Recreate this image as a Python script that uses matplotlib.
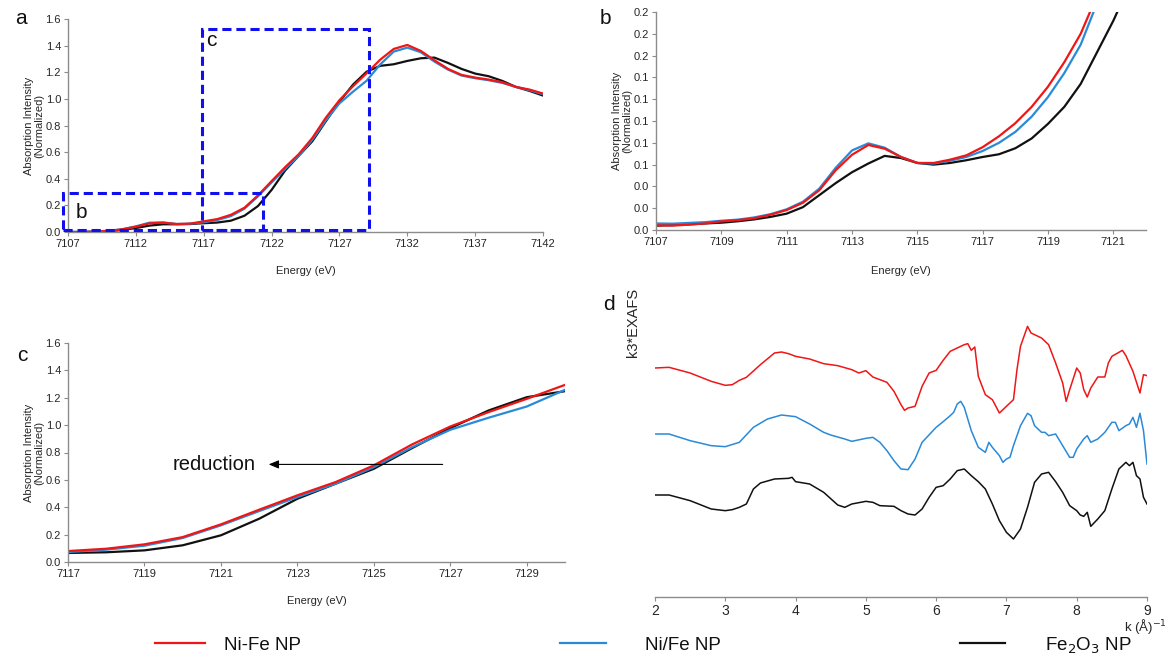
import numpy as np
import matplotlib
matplotlib.use("Agg")
import matplotlib.pyplot as plt
from matplotlib.lines import Line2D
from matplotlib.patches import Rectangle
from matplotlib.ticker import FormatStrFormatter, MultipleLocator

plt.rcParams['font.family'] = ['Liberation Sans', 'DejaVu Sans']

# ---------------- XANES, full range (panel a) ----------------
energy_a = [7107, 7108, 7109, 7110, 7111, 7112, 7113, 7114, 7115, 7116,
            7117, 7118, 7119, 7120, 7121, 7122, 7123, 7124, 7125, 7126,
            7127, 7128, 7129, 7130, 7131, 7132, 7133, 7134, 7135, 7136,
            7137, 7138, 7139, 7140, 7141, 7142]
nife_a = [0.000, 0.000, 0.003, 0.008, 0.020, 0.040, 0.065, 0.070, 0.060, 0.063,
          0.080, 0.097, 0.129, 0.182, 0.275, 0.382, 0.487, 0.584, 0.706, 0.859,
          0.990, 1.095, 1.192, 1.294, 1.375, 1.405, 1.360, 1.290, 1.225, 1.180,
          1.160, 1.145, 1.125, 1.090, 1.070, 1.040]
ni_fe_a = [0.000, 0.001, 0.004, 0.009, 0.021, 0.042, 0.070, 0.072, 0.060, 0.062,
           0.073, 0.090, 0.119, 0.175, 0.268, 0.372, 0.474, 0.572, 0.693, 0.839,
           0.966, 1.054, 1.136, 1.258, 1.355, 1.385, 1.350, 1.280, 1.220, 1.175,
           1.155, 1.140, 1.120, 1.090, 1.065, 1.035]
fe2o3_a = [0.000, 0.000, 0.002, 0.006, 0.015, 0.030, 0.048, 0.058, 0.058, 0.060,
           0.066, 0.071, 0.085, 0.122, 0.195, 0.316, 0.462, 0.572, 0.681, 0.832,
           0.978, 1.107, 1.204, 1.248, 1.260, 1.285, 1.305, 1.310, 1.270, 1.225,
           1.190, 1.170, 1.135, 1.090, 1.060, 1.025]
ticks_a = [7107, 7112, 7117, 7122, 7127, 7132, 7137, 7142]

# ---------------- pre-edge region (panel b) ----------------
energy_b = [7107.0, 7107.5, 7108.0, 7108.5, 7109.0, 7109.5, 7110.0, 7110.5,
            7111.0, 7111.5, 7112.0, 7112.5, 7113.0, 7113.5, 7114.0, 7114.5,
            7115.0, 7115.5, 7116.0, 7116.5, 7117.0, 7117.5, 7118.0, 7118.5,
            7119.0, 7119.5, 7120.0, 7120.5, 7121.0, 7121.5]
nife_b = [0.0043, 0.0040, 0.0049, 0.0060, 0.0079, 0.0090, 0.0107, 0.0140,
          0.0183, 0.0250, 0.0365, 0.0548, 0.0690, 0.0780, 0.0746, 0.0670,
          0.0615, 0.0615, 0.0645, 0.0685, 0.0760, 0.0860, 0.0980, 0.1130,
          0.1315, 0.1540, 0.1800, 0.2150, 0.2600, 0.3100]
ni_fe_b = [0.0060, 0.0058, 0.0065, 0.0072, 0.0085, 0.0095, 0.0115, 0.0145,
           0.0190, 0.0260, 0.0380, 0.0570, 0.0730, 0.0795, 0.0755, 0.0670,
           0.0615, 0.0610, 0.0635, 0.0670, 0.0725, 0.0800, 0.0900, 0.1040,
           0.1220, 0.1440, 0.1700, 0.2080, 0.2500, 0.3000]
fe2o3_b = [0.0040, 0.0045, 0.0052, 0.0060, 0.0067, 0.0080, 0.0097, 0.0120,
           0.0150, 0.0210, 0.0320, 0.0430, 0.0530, 0.0610, 0.0680, 0.0660,
           0.0615, 0.0600, 0.0615, 0.0640, 0.0670, 0.0695, 0.0750, 0.0840,
           0.0974, 0.1130, 0.1340, 0.1630, 0.1920, 0.2250]

# ---------------- k3-weighted EXAFS (panel d) ----------------
k_nife = [2.0, 2.2, 2.5, 2.8, 3.0, 3.1, 3.2, 3.3, 3.5, 3.7, 3.8, 3.9, 4.0, 4.2,
          4.4, 4.6, 4.8, 4.9, 5.0, 5.1, 5.2, 5.3, 5.4, 5.5, 5.55, 5.6, 5.7, 5.8,
          5.9, 6.0, 6.1, 6.2, 6.3, 6.4, 6.45, 6.5, 6.55, 6.6, 6.7, 6.8, 6.9,
          7.0, 7.1, 7.15, 7.2, 7.3, 7.35, 7.4, 7.5, 7.6, 7.7, 7.8, 7.85, 7.9,
          8.0, 8.05, 8.1, 8.15, 8.2, 8.3, 8.4, 8.45, 8.5, 8.6, 8.65, 8.7, 8.8,
          8.9, 8.95, 9.0]
chi_nife = [0.00, 0.02, -0.15, -0.40, -0.52, -0.50, -0.37, -0.28, 0.10, 0.45,
            0.48, 0.43, 0.35, 0.27, 0.13, 0.07, -0.05, -0.15, -0.08, -0.27,
            -0.35, -0.43, -0.70, -1.10, -1.27, -1.20, -1.15, -0.55, -0.15,
            -0.07, 0.23, 0.50, 0.60, 0.70, 0.73, 0.53, 0.63, -0.25, -0.80,
            -0.95, -1.35, -1.15, -0.95, -0.05, 0.65, 1.25, 1.05, 1.00, 0.90,
            0.70, 0.15, -0.45, -1.00, -0.65, 0.00, -0.15, -0.65, -0.87, -0.60,
            -0.27, -0.27, 0.15, 0.35, 0.47, 0.53, 0.37, -0.10, -0.75, -0.20,
            -0.23]

k_ni_fe = [2.0, 2.2, 2.5, 2.8, 3.0, 3.2, 3.4, 3.6, 3.8, 4.0, 4.2, 4.4, 4.5,
           4.7, 4.8, 5.0, 5.1, 5.2, 5.3, 5.4, 5.5, 5.6, 5.7, 5.8, 6.0, 6.1,
           6.2, 6.25, 6.3, 6.35, 6.4, 6.5, 6.6, 6.7, 6.75, 6.8, 6.9, 6.95,
           7.0, 7.05, 7.1, 7.2, 7.3, 7.35, 7.4, 7.5, 7.55, 7.6, 7.7, 7.8,
           7.9, 7.95, 8.0, 8.1, 8.15, 8.2, 8.3, 8.4, 8.5, 8.55, 8.6, 8.7,
           8.75, 8.8, 8.85, 8.9, 8.95, 9.0]
chi_ni_fe = [0.00, 0.00, -0.20, -0.35, -0.38, -0.25, 0.20, 0.45, 0.57, 0.52,
             0.30, 0.05, -0.03, -0.15, -0.22, -0.13, -0.10, -0.25, -0.50,
             -0.80, -1.05, -1.07, -0.75, -0.25, 0.20, 0.37, 0.55, 0.65, 0.90,
             0.98, 0.80, 0.10, -0.40, -0.55, -0.25, -0.40, -0.65, -0.85,
             -0.75, -0.70, -0.35, 0.25, 0.62, 0.55, 0.25, 0.05, 0.05, -0.05,
             0.00, -0.35, -0.70, -0.70, -0.45, -0.15, -0.05, -0.25, -0.15,
             0.05, 0.35, 0.35, 0.10, 0.25, 0.30, 0.50, 0.20, 0.62, 0.10,
             -0.90]

k_fe2o3 = [2.0, 2.2, 2.5, 2.8, 3.0, 3.1, 3.2, 3.3, 3.4, 3.5, 3.7, 3.9, 3.95,
           4.0, 4.2, 4.4, 4.6, 4.7, 4.8, 5.0, 5.1, 5.2, 5.4, 5.5, 5.6, 5.7,
           5.8, 5.9, 6.0, 6.1, 6.2, 6.3, 6.4, 6.5, 6.6, 6.7, 6.8, 6.9, 7.0,
           7.1, 7.2, 7.3, 7.4, 7.5, 7.6, 7.7, 7.8, 7.9, 8.0, 8.05, 8.1, 8.15,
           8.2, 8.3, 8.4, 8.5, 8.6, 8.7, 8.75, 8.8, 8.85, 8.9, 8.95, 9.0]
chi_fe2o3 = [0.00, 0.00, -0.17, -0.42, -0.47, -0.44, -0.37, -0.27, 0.18, 0.36,
             0.48, 0.50, 0.53, 0.40, 0.33, 0.08, -0.30, -0.37, -0.27, -0.19,
             -0.22, -0.32, -0.34, -0.47, -0.57, -0.60, -0.42, -0.07, 0.23,
             0.28, 0.48, 0.73, 0.78, 0.58, 0.40, 0.18, -0.27, -0.77, -1.12,
             -1.32, -1.02, -0.37, 0.38, 0.63, 0.68, 0.40, 0.08, -0.32, -0.47,
             -0.60, -0.64, -0.52, -0.94, -0.72, -0.47, 0.18, 0.78, 0.98, 0.88,
             0.98, 0.58, 0.48, -0.07, -0.27]

series_names = ["Ni-Fe NP", "Ni/Fe NP", "Fe$_2$O$_3$ NP"]

RED = "#f01616"
BLUE = "#2a8ad8"
BLACK = "#111111"
SPINE = "#8c8c8c"
TXT = "#262626"

W, H = 1170, 659
fig = plt.figure(figsize=(W / 100, H / 100), dpi=100)


def rect(x0, x1, ytop, ybot):
    return [x0 / W, 1 - ybot / H, (x1 - x0) / W, (ybot - ytop) / H]


def style(ax, size=8):
    for s in ("top", "right"):
        ax.spines[s].set_visible(False)
    for s in ("left", "bottom"):
        ax.spines[s].set_color(SPINE)
        ax.spines[s].set_linewidth(1.0)
    ax.tick_params(direction="out", length=3, width=0.8, color=SPINE,
                   labelcolor=TXT, labelsize=size, pad=2)


def xanes(ax, e, r, b, k, lw=1.6):
    ax.plot(e, k, color=BLACK, lw=lw)
    ax.plot(e, b, color=BLUE, lw=lw)
    ax.plot(e, r, color=RED, lw=lw)


def ylab(ax):
    ax.set_ylabel("Absorption Intensity\n(Normalized)", fontsize=8, color=TXT,
                  labelpad=1, linespacing=1.0)


# ---- panel a ----
ax_a = fig.add_axes(rect(68, 543, 19, 232))
xanes(ax_a, energy_a, nife_a, ni_fe_a, fe2o3_a)
ax_a.set_xlim(7107, 7142)
ax_a.set_ylim(0, 1.6)
ax_a.set_xticks(ticks_a)
ax_a.yaxis.set_major_locator(MultipleLocator(0.2))
ax_a.yaxis.set_major_formatter(FormatStrFormatter("%.1f"))
style(ax_a)
ax_a.set_xlabel("Energy (eV)", fontsize=8, color=TXT, labelpad=12)
ylab(ax_a)
box_kw = dict(fill=False, edgecolor="#1010ee", lw=2.2, linestyle=(0, (3, 1.6)),
              clip_on=False, zorder=5)
ax_a.add_patch(Rectangle((7106.6, 0.018), 14.8, 0.272, **box_kw))
ax_a.add_patch(Rectangle((7116.85, 0.018), 12.3, 1.51, **box_kw))
ax_a.text(7107.6, 0.15, "b", fontsize=15, color="#111", va="center")
ax_a.text(7117.2, 1.44, "c", fontsize=15, color="#111", va="center")

# ---- panel b ----
ax_b = fig.add_axes(rect(656, 1146, 12, 230))
xanes(ax_b, energy_b, nife_b, ni_fe_b, fe2o3_b)
ax_b.set_xlim(7107, 7122)
ax_b.set_ylim(0, 0.2)
ax_b.set_xticks(np.arange(7107, 7122, 2))
ax_b.yaxis.set_major_locator(MultipleLocator(0.02))
ax_b.yaxis.set_major_formatter(FormatStrFormatter("%.1f"))
style(ax_b)
ax_b.set_xlabel("Energy (eV)", fontsize=8, color=TXT, labelpad=14)
ylab(ax_b)

# ---- panel c ----
ax_c = fig.add_axes(rect(68, 565, 343, 562))
xanes(ax_c, energy_a[10:24], nife_a[10:24], ni_fe_a[10:24], fe2o3_a[10:24])
ax_c.set_xlim(7117, 7130)
ax_c.set_ylim(0, 1.6)
ax_c.set_xticks(np.arange(7117, 7130, 2))
ax_c.yaxis.set_major_locator(MultipleLocator(0.2))
ax_c.yaxis.set_major_formatter(FormatStrFormatter("%.1f"))
style(ax_c)
ax_c.set_xlabel("Energy (eV)", fontsize=8, color=TXT, labelpad=12)
ylab(ax_c)
ax_c.annotate("", xy=(7122.25, 0.713), xytext=(7126.8, 0.713),
              arrowprops=dict(arrowstyle="-|>,head_length=0.6,head_width=0.25",
                              color="black", lw=0.8, shrinkA=0, shrinkB=0))
ax_c.text(7121.9, 0.713, "reduction", fontsize=14.5, color="#111",
          ha="right", va="center")

# ---- panel d ----
ax_d = fig.add_axes(rect(655, 1147, 297, 597))
offsets = [6.87, 4.89, 3.06]
for kk, chi, c, off in ((k_nife, chi_nife, RED, offsets[0]),
                        (k_ni_fe, chi_ni_fe, BLUE, offsets[1]),
                        (k_fe2o3, chi_fe2o3, BLACK, offsets[2])):
    ax_d.plot(kk, np.asarray(chi) + off, color=c, lw=1.1)
ax_d.set_xlim(2, 9)
ax_d.set_ylim(0, 9.0)
ax_d.set_xticks(range(2, 10))
style(ax_d, size=10)
ax_d.spines["left"].set_visible(False)
ax_d.set_yticks([])

# ---- panel letters and free text ----
for x, y, s in ((15, 18, "a"), (600, 18, "b"), (17, 356, "c"), (603, 305, "d")):
    fig.text(x / W, 1 - y / H, s, fontsize=15, color="#111", va="center")
fig.text(633 / W, 1 - 322 / H, "k3*EXAFS", rotation=90, fontsize=10.5,
         color=TXT, ha="center", va="center")
fig.text(1167 / W, 1 - 626 / H, "k (Å)$^{-1}$", fontsize=9.5, color=TXT,
         ha="right", va="center")

# ---- legend ----
leg = [((155, 205), RED, 224), ((560, 606), BLUE, 645), ((960, 1005), BLACK, 1045)]
for ((x0, x1), c, tx), name in zip(leg, series_names):
    fig.add_artist(Line2D([x0 / W, x1 / W], [1 - 643 / H] * 2, color=c, lw=1.6))
    fig.text(tx / W, 1 - 646 / H, name, fontsize=13.5, color="#111", va="center")

fig.savefig("out.png", dpi=100)
